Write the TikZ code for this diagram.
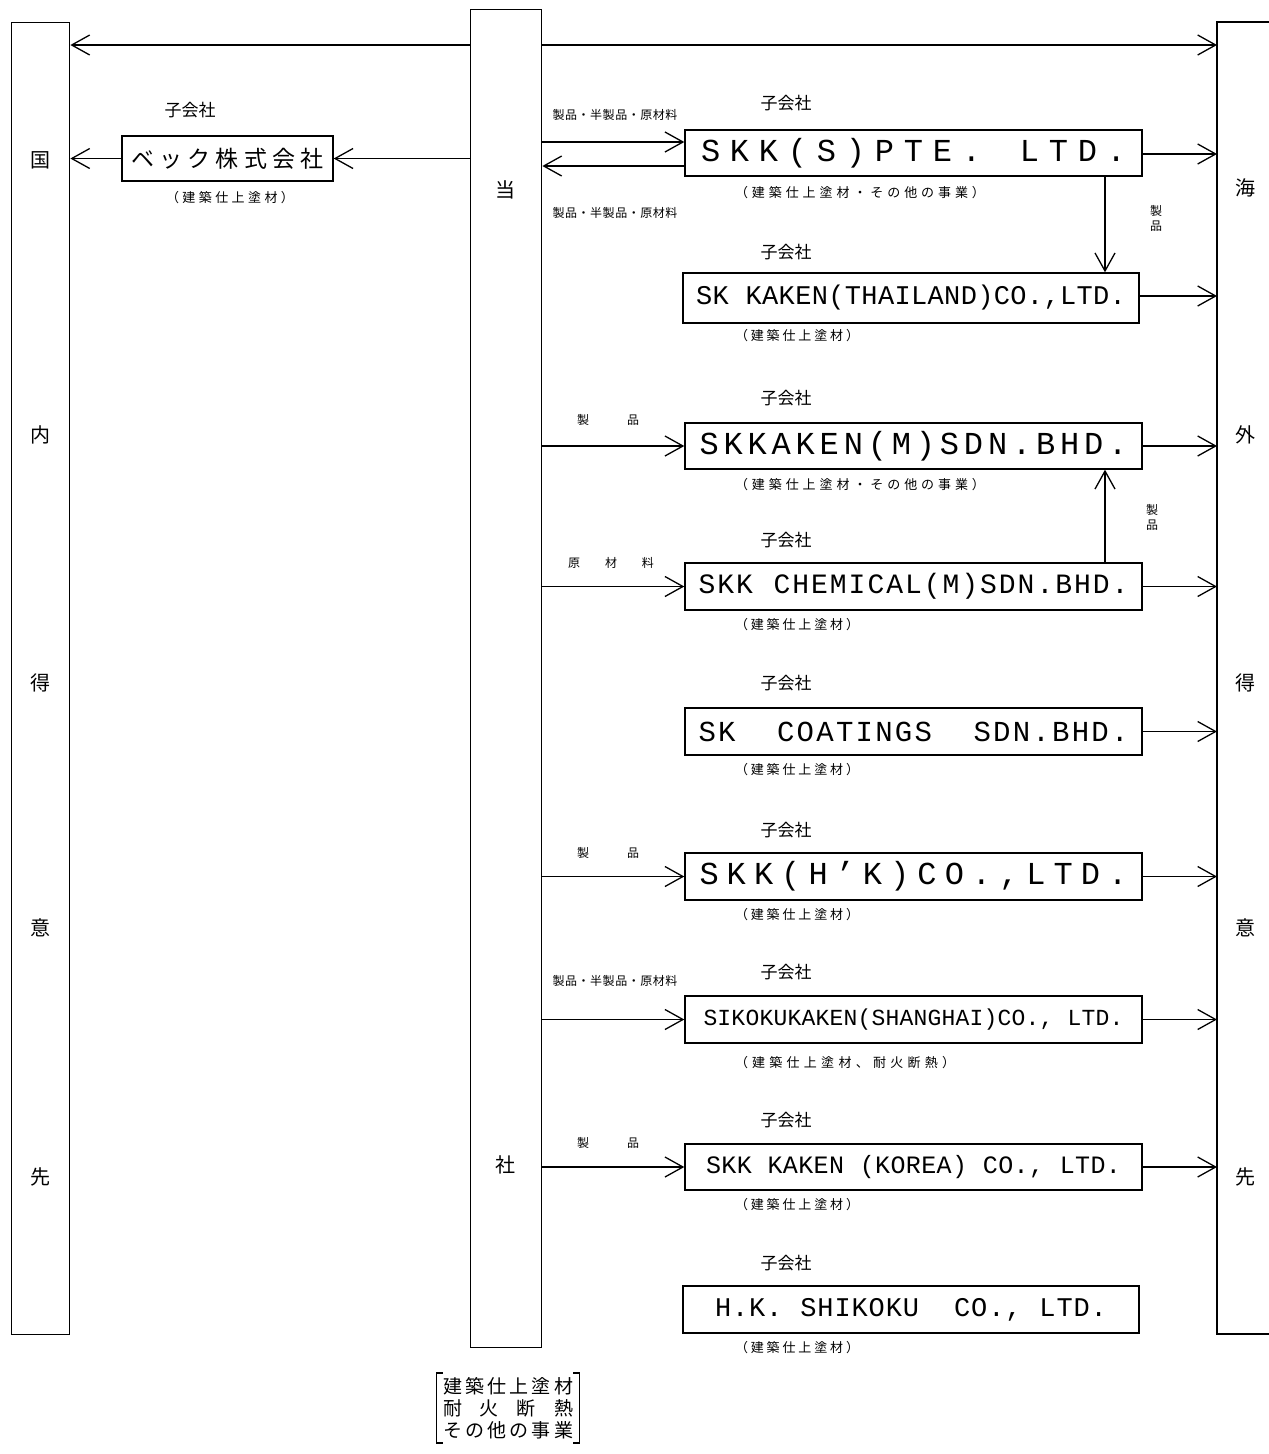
\documentclass[tikz,border=0pt]{standalone}
\usepackage{fontspec}
\setmainfont{Noto Sans CJK JP}
\newfontfamily\mono{Liberation Mono}
\usetikzlibrary{arrows.meta}
\def\sprd#1#2{\hbox to #1{\sprdB#2\relax}}
\def\sprdB#1{#1\sprdC}
\def\sprdC#1{\ifx#1\relax\else\hss#1\expandafter\sprdC\fi}
\newcommand\fsz[1]{\fontsize{#1}{#1}\selectfont}
\tikzset{
  ln/.style={line width=1.3pt},
  col/.style={draw, line width=1.4pt, inner sep=0pt, anchor=north west},
  box/.style={draw, line width=1.4pt, inner sep=0pt, minimum width=457pt, minimum height=46pt},
  arr/.style={line width=1.3pt, -{Straight Barb[length=18pt,width=20pt]}},
  lab/.style={inner sep=0pt, font=\fsz{17}},
  sub/.style={inner sep=0pt, font=\fsz{13}},
  flow/.style={inner sep=0pt, font=\fsz{12}},
  colt/.style={inner sep=0pt, font=\fsz{20}},
}
\begin{document}
\begin{tikzpicture}[x=1pt,y=-1pt]
\useasboundingbox (0,0) rectangle (1269,1454);
% columns
\node[col, minimum width=58pt, minimum height=1312pt] (L) at (11,22) {};
\node[col, minimum width=71pt, minimum height=1338pt] (C) at (470,9) {};
\draw[line width=1.4pt] (1272,22) -- (1217,22) -- (1217,1334) -- (1272,1334);
\coordinate (R) at (1217,0);
% column texts
\foreach \t/\yy in {国/160,内/435,得/683,意/928,先/1177} \node[colt] at (40,\yy) {\t};
\foreach \t/\yy in {海/188,外/435,得/683,意/928,先/1177} \node[colt] at (1245,\yy) {\t};
\node[colt] (c1) at (505,190) {当};
\node[colt] (c2) at (505,1165) {社};
% top arrows
\coordinate (t) at (0,45);
\draw[arr] (C.west |- t) -- (L.east |- t);
\draw[arr] (C.east |- t) -- (R |- t);
% Bec
\node[box, minimum width=211pt, minimum height=45pt] (bek) at (227.5,158.5) {\fsz{23}\sprd{193pt}{ベック株式会社}};
\node[lab] at (190,110) {子会社};
\node[sub] at (230,198) {\sprd{128pt}{（建築仕上塗材）}};
\draw[arr] (C.west |- bek.east) -- (bek.east);
\draw[arr] (bek.west) -- (L.east |- bek.west);
% subsidiaries
\node[box] (s1) at (913.5,153) {\mono\fsz{32}\sprd{425pt}{SKK(S)PTE.~LTD.}};
\node[box, minimum width=456pt, minimum height=50pt] (s2) at (911,298) {\mono\fsz{27}\sprd{430pt}{SK~KAKEN(THAILAND)CO.,LTD.}};
\node[box] (s3) at (913.5,446) {\mono\fsz{32}\sprd{428pt}{SKKAKEN(M)SDN.BHD.}};
\node[box, minimum height=47pt] (s4) at (913.5,586.5) {\mono\fsz{28}\sprd{430pt}{SKK~CHEMICAL(M)SDN.BHD.}};
\node[box, minimum height=47pt] (s5) at (913.5,731.5) {\mono\fsz{29}\sprd{430pt}{SK~~COATINGS~~SDN.BHD.}};
\node[box, minimum height=47pt] (s6) at (913.5,876.5) {\mono\fsz{32}\sprd{428pt}{SKK(H’K)CO.,LTD.}};
\node[box, minimum height=47pt] (s7) at (913.5,1019.5) {\mono\fsz{23}\sprd{420pt}{SIKOKUKAKEN(SHANGHAI)CO.,~LTD.}};
\node[box] (s8) at (913.5,1167) {\mono\fsz{25}\sprd{415pt}{SKK~KAKEN~(KOREA)~CO.,~LTD.}};
\node[box, minimum width=456pt, minimum height=47pt] (s9) at (911,1309.5) {\mono\fsz{27}\sprd{392pt}{H.K.~SHIKOKU~~CO.,~LTD.}};
% 子会社 labels
\foreach \n/\yy in {s1/103,s2/252,s3/398,s4/540,s5/683,s6/830,s7/972,s8/1120,s9/1263}
  \node[lab] at (786,\yy) {子会社};
% sub labels
\node[sub] at (860,193) {\sprd{250pt}{（建築仕上塗材・その他の事業）}};
\node[sub] at (860,485) {\sprd{250pt}{（建築仕上塗材・その他の事業）}};
\foreach \yy in {336,625,770,915,1205,1348}
  \node[sub] at (797,\yy) {\sprd{124pt}{（建築仕上塗材）}};
\node[sub] at (845,1063) {\sprd{220pt}{（建築仕上塗材、耐火断熱）}};
% flows from company
\coordinate (a1) at (0,142);
\coordinate (a2) at (0,166);
\draw[arr] (C.east |- a1) -- (s1.west |- a1);
\draw[arr] (s1.west |- a2) -- (C.east |- a2);
\node[flow] at (615,115) {\sprd{125pt}{製品・半製品・原材料}};
\node[flow] at (615,213) {\sprd{125pt}{製品・半製品・原材料}};
\draw[arr] (C.east |- s3.west) -- (s3.west);
\node[flow] at (608,420) {\sprd{62pt}{製品}};
\draw[arr] (C.east |- s4.west) -- (s4.west);
\node[flow] at (611,563) {\sprd{86pt}{原材料}};
\draw[arr] (C.east |- s6.west) -- (s6.west);
\node[flow] at (608,853) {\sprd{62pt}{製品}};
\draw[arr] (C.east |- s7.west) -- (s7.west);
\node[flow] at (615,981) {\sprd{125pt}{製品・半製品・原材料}};
\draw[arr] (C.east |- s8.west) -- (s8.west);
\node[flow] at (608,1143) {\sprd{62pt}{製品}};
% inter-subsidiary
\coordinate (vx) at (1105,0);
\draw[arr] (s1.south -| vx) -- (s2.north -| vx);
\node[flow] at (1156,211) {製};
\node[flow] at (1156,226) {品};
\draw[arr] (s4.north -| vx) -- (s3.south -| vx);
\node[flow] at (1152,510) {製};
\node[flow] at (1152,525) {品};
% to overseas customers
\draw[arr] (s1.east |- 0,154) -- (R |- 0,154);
\draw[arr] (s2.east |- 0,296) -- (R |- 0,296);
\foreach \n in {s3,s4,s5,s6,s7,s8}
  \draw[arr] (\n.east) -- (R |- \n.east);
% note
\node[inner xsep=6pt, inner ysep=4pt, align=center, font=\fsz{19}] (note) at (508,1408)
  {\sprd{130pt}{建築仕上塗材}\\[3pt]\sprd{130pt}{耐火断熱}\\[3pt]\sprd{130pt}{その他の事業}};
\draw[line width=1.1pt] ([xshift=6pt]note.north west) -- (note.north west) -- (note.south west) -- ([xshift=6pt]note.south west);
\draw[line width=1.1pt] ([xshift=-6pt]note.north east) -- (note.north east) -- (note.south east) -- ([xshift=-6pt]note.south east);
\end{tikzpicture}
\end{document}
